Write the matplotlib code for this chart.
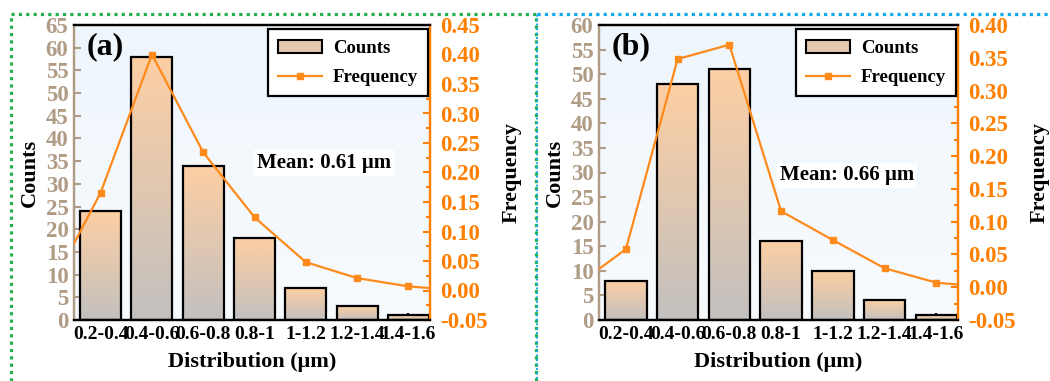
import numpy as np
import matplotlib
matplotlib.use("Agg")
import matplotlib.pyplot as plt
from matplotlib.colors import LinearSegmentedColormap
from matplotlib.patches import Patch
from matplotlib.lines import Line2D
from matplotlib.ticker import MultipleLocator, FormatStrFormatter

plt.rcParams['font.family'] = ['Liberation Serif', 'DejaVu Serif']
plt.rcParams['font.weight'] = 'bold'
plt.rcParams['axes.labelweight'] = 'bold'

# data
bins = ["0.2-0.4", "0.4-0.6", "0.6-0.8", "0.8-1", "1-1.2", "1.2-1.4", "1.4-1.6"]
counts_a = [24, 58, 34, 18, 7, 3, 1]
counts_b = [8, 48, 51, 16, 10, 4, 1]
freq_a = [0.166, 0.400, 0.234, 0.124, 0.048, 0.021, 0.007]
freq_b = [0.058, 0.348, 0.370, 0.116, 0.072, 0.029, 0.007]
edge_freq = 0.0          # line goes to zero one bin past each end (clipped)
mean_a = "0.61"
mean_b = "0.66"

TAN = '#b09b85'
ORANGE = '#ff7f00'
LINE = '#ff8a1c'
PEACH = '#fdcfa3'
GRAY = '#c2c0bf'
bar_cmap = LinearSegmentedColormap.from_list('bar', [GRAY, PEACH])
bg_cmap = LinearSegmentedColormap.from_list('bg', ['#f8fbfe', '#eef6fc'])


def panel(rect, counts, freq, ymax, fmax, tag, mean, mean_xy):
    ax = fig.add_axes(rect)
    x = np.arange(len(bins))
    grad = np.linspace(0, 1, 256).reshape(-1, 1)

    ax.imshow(grad, extent=[0, 1, 0, 1], transform=ax.transAxes, cmap=bg_cmap,
              origin='lower', aspect='auto', zorder=0)
    bars = ax.bar(x, counts, width=0.8, facecolor='none', edgecolor='black',
                  linewidth=1.6, zorder=3)
    for b in bars:
        x0, w, h = b.get_x(), b.get_width(), b.get_height()
        ax.imshow(grad, extent=[x0, x0 + w, 0, h], origin='lower', cmap=bar_cmap,
                  aspect='auto', zorder=2)

    ax.set_xlim(-0.52, 6.42)
    ax.set_ylim(0, ymax)
    ax.set_xticks(x)
    ax.set_xticklabels(bins, fontsize=14)
    ax.yaxis.set_major_locator(MultipleLocator(5))
    ax.tick_params(axis='y', colors=TAN, labelsize=16.5, direction='in', length=5, width=1.5, pad=4)
    ax.tick_params(axis='x', direction='in', length=5, width=1.5, pad=4)
    ax.set_xlabel("Distribution (μm)", fontsize=16, labelpad=7)
    ax.set_ylabel("Counts", fontsize=16, labelpad=4)

    ax2 = ax.twinx()
    xl = np.concatenate(([-1], x, [len(bins)]))
    fl = np.concatenate(([edge_freq], freq, [edge_freq]))
    ax2.plot(xl, fl, color=LINE, lw=1.6, zorder=4)
    ax2.plot(x, freq, 's', color=LINE, ms=4.5, zorder=5)
    ax2.set_ylim(-0.05, fmax)
    ax2.yaxis.set_major_locator(MultipleLocator(0.05))
    ax2.yaxis.set_minor_locator(MultipleLocator(0.025))
    ax2.yaxis.set_major_formatter(FormatStrFormatter('%.2f'))
    ax2.tick_params(axis='y', which='both', colors=ORANGE, labelsize=16.5, direction='in', width=1.5, pad=7)
    ax2.tick_params(axis='y', which='major', length=5)
    ax2.tick_params(axis='y', which='minor', length=3)
    ax2.set_ylabel("Frequency", fontsize=16, labelpad=10, color='black')

    for a in (ax, ax2):
        for s in a.spines.values():
            s.set_linewidth(1.6)
        a.spines['left'].set_color(TAN)
        a.spines['right'].set_color(ORANGE)
        a.spines['top'].set_color('black')
        a.spines['bottom'].set_color('black')

    ax.text(0.035, 0.925, tag, transform=ax.transAxes, fontsize=23, va='center', ha='left')
    ax.text(mean_xy[0], mean_xy[1], "Mean: " + mean + " μm", transform=ax.transAxes,
            fontsize=15, va='center', ha='left', zorder=6,
            bbox=dict(facecolor='white', edgecolor='none', pad=2))

    handles = [Patch(facecolor='#e3c8ae', edgecolor='black', linewidth=1.5),
               Line2D([], [], color=LINE, lw=1.6, marker='s', ms=4)]
    leg = ax2.legend(handles, ["Counts", "Frequency"], loc='upper right',
                     bbox_to_anchor=(0.995, 0.985), fontsize=13.5, frameon=True,
                     fancybox=False, edgecolor='black', handlelength=2.3,
                     borderaxespad=0, borderpad=0.55, labelspacing=0.65,
                     handletextpad=0.6)
    leg.get_frame().set_linewidth(1.6)
    leg.get_frame().set_facecolor('white')
    leg.get_frame().set_alpha(1)
    return ax


fig = plt.figure(figsize=(10.5, 3.81), dpi=100)
W, H = 1050, 381
bottom, top = (H - 320) / H, (H - 25) / H

panel([74 / W, bottom, (430 - 74) / W, top - bottom], counts_a, freq_a, 65, 0.45,
      "(a)", mean_a, (0.514, 0.532))
panel([599 / W, bottom, (958 - 599) / W, top - bottom], counts_b, freq_b, 60, 0.40,
      "(b)", mean_b, (0.504, 0.49))

# dotted frames around the panels
green, blue = '#22b14c', '#10a8e8'
dot = (0, (1, 1.3))
gy = 1 - 14 / H
fig.add_artist(Line2D([11 / W, 536 / W], [gy, gy], color=green, lw=2.3, ls=dot))
fig.add_artist(Line2D([11 / W, 11 / W], [0, gy], color=green, lw=2.3, ls=dot))
fig.add_artist(Line2D([536 / W, 536 / W], [0, gy], color=green, lw=2.3, ls=dot))
fig.add_artist(Line2D([537 / W, 1.0], [gy, gy], color=blue, lw=2.3, ls=dot))
fig.add_artist(Line2D([537 / W, 537 / W], [0, gy], color=blue, lw=1.4, ls=(1.2, (1, 1.3))))

fig.savefig("out.png", dpi=100)
